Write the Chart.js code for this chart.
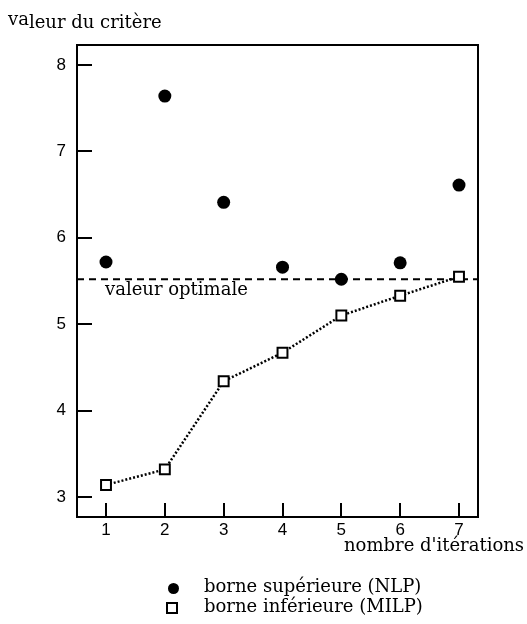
<!DOCTYPE html>
<html>
<head>
<meta charset="utf-8">
<script src="https://cdn.jsdelivr.net/npm/chart.js@4/dist/chart.umd.min.js"></script>
<style>
  html, body { margin: 0; padding: 0; background: #fff; }
  #wrap { position: relative; width: 527px; height: 624px; overflow: hidden; }
  #c { position: absolute; left: 0; top: 0; }
  .t { position: absolute; font-family: "DejaVu Serif", serif; font-size: 18px; color: #000; white-space: nowrap; line-height: 1; }
  .mk { position: absolute; box-sizing: border-box; }
</style>
</head>
<body>
<div id="wrap">
  <canvas id="c" width="527" height="624"></canvas>
  <div class="t" id="ytitle" style="left:8px; top:13px;"><span style="position:relative; top:-3px;">va</span>leur du critère</div>
  <div class="t" id="xtitle" style="left:344px; top:536px;">nombre d'itérations</div>
  <div class="t" id="optlabel" style="left:105px; top:280px;">valeur optimale</div>
  <div class="mk" style="left:168px; top:583px; width:11px; height:11px; border-radius:50%; background:#000;"></div>
  <div class="t" id="leg1" style="left:204px; top:577px;">borne supérieure (NLP)</div>
  <div class="mk" style="left:166px; top:602px; width:12px; height:12px; border:2px solid #000; background:#fff;"></div>
  <div class="t" id="leg2" style="left:204px; top:597px;">borne inférieure (MILP)</div>
</div>
<script>
// ---- data ----
const ITERATIONS = [1, 2, 3, 4, 5, 6, 7];
const UPPER_NLP = [5.72, 7.64, 6.41, 5.66, 5.52, 5.71, 6.61];
const LOWER_MILP = [3.14, 3.32, 4.34, 4.67, 5.10, 5.33, 5.55];
const OPTIMAL_VALUE = 5.52;
const X_TICKS = [1, 2, 3, 4, 5, 6, 7];
const Y_TICKS = [3, 4, 5, 6, 7, 8];
const X_RANGE = [0.507, 7.323];
const Y_RANGE = [2.769, 8.231];

const TICK_FONT = { family: '"Liberation Sans", Arial, sans-serif', size: 17 };

const framePlugin = {
  id: 'frame',
  afterDatasetsDraw(chart) {
    const { ctx, chartArea: a, scales } = chart;
    ctx.save();
    ctx.strokeStyle = '#000';
    ctx.lineWidth = 2;
    ctx.strokeRect(a.left, a.top, a.right - a.left, a.bottom - a.top);
    ctx.beginPath();
    Y_TICKS.forEach(v => {
      const y = Math.round(scales.y.getPixelForValue(v));
      ctx.moveTo(a.left, y); ctx.lineTo(a.left + 15, y);
    });
    X_TICKS.forEach(v => {
      const x = Math.round(scales.x.getPixelForValue(v));
      ctx.moveTo(x, a.bottom); ctx.lineTo(x, a.bottom - 14);
    });
    ctx.stroke();
    ctx.restore();
  }
};

new Chart(document.getElementById('c'), {
  type: 'scatter',
  data: {
    datasets: [
      {
        label: 'valeur optimale',
        type: 'line',
        data: [{ x: X_RANGE[0], y: OPTIMAL_VALUE }, { x: X_RANGE[1], y: OPTIMAL_VALUE }],
        borderColor: '#000', borderWidth: 2, borderDash: [7, 5],
        pointRadius: 0, fill: false, order: 3
      },
      {
        label: 'borne inférieure (MILP)',
        type: 'line',
        data: ITERATIONS.map((x, i) => ({ x, y: LOWER_MILP[i] })),
        borderColor: '#000', borderWidth: 2.5, borderDash: [2, 2],
        pointStyle: 'rect', pointRadius: 7, pointBorderWidth: 2,
        pointBackgroundColor: '#fff', pointBorderColor: '#000',
        fill: false, tension: 0, order: 2
      },
      {
        label: 'borne supérieure (NLP)',
        data: ITERATIONS.map((x, i) => ({ x, y: UPPER_NLP[i] })),
        pointStyle: 'circle', pointRadius: 6.5, pointBorderWidth: 0,
        pointBackgroundColor: '#000', pointBorderColor: '#000',
        showLine: false, order: 1
      }
    ]
  },
  options: {
    responsive: false,
    animation: false,
    layout: { padding: { left: 0, right: 49, top: 45, bottom: 0 } },
    plugins: { legend: { display: false }, tooltip: { enabled: false }, title: { display: false } },
    scales: {
      x: {
        type: 'linear', min: X_RANGE[0], max: X_RANGE[1],
        afterBuildTicks: s => { s.ticks = X_TICKS.map(v => ({ value: v })); },
        afterFit: s => { s.height = 107; },
        grid: { display: false, drawTicks: false },
        border: { display: false },
        ticks: { font: TICK_FONT, color: '#000', padding: 3, maxRotation: 0, autoSkip: false }
      },
      y: {
        type: 'linear', min: Y_RANGE[0], max: Y_RANGE[1],
        afterBuildTicks: s => { s.ticks = Y_TICKS.map(v => ({ value: v })); },
        afterFit: s => { s.width = 77; },
        grid: { display: false, drawTicks: false },
        border: { display: false },
        ticks: { font: TICK_FONT, color: '#000', padding: 11, autoSkip: false }
      }
    }
  },
  plugins: [framePlugin]
});
</script>
</body>
</html>
